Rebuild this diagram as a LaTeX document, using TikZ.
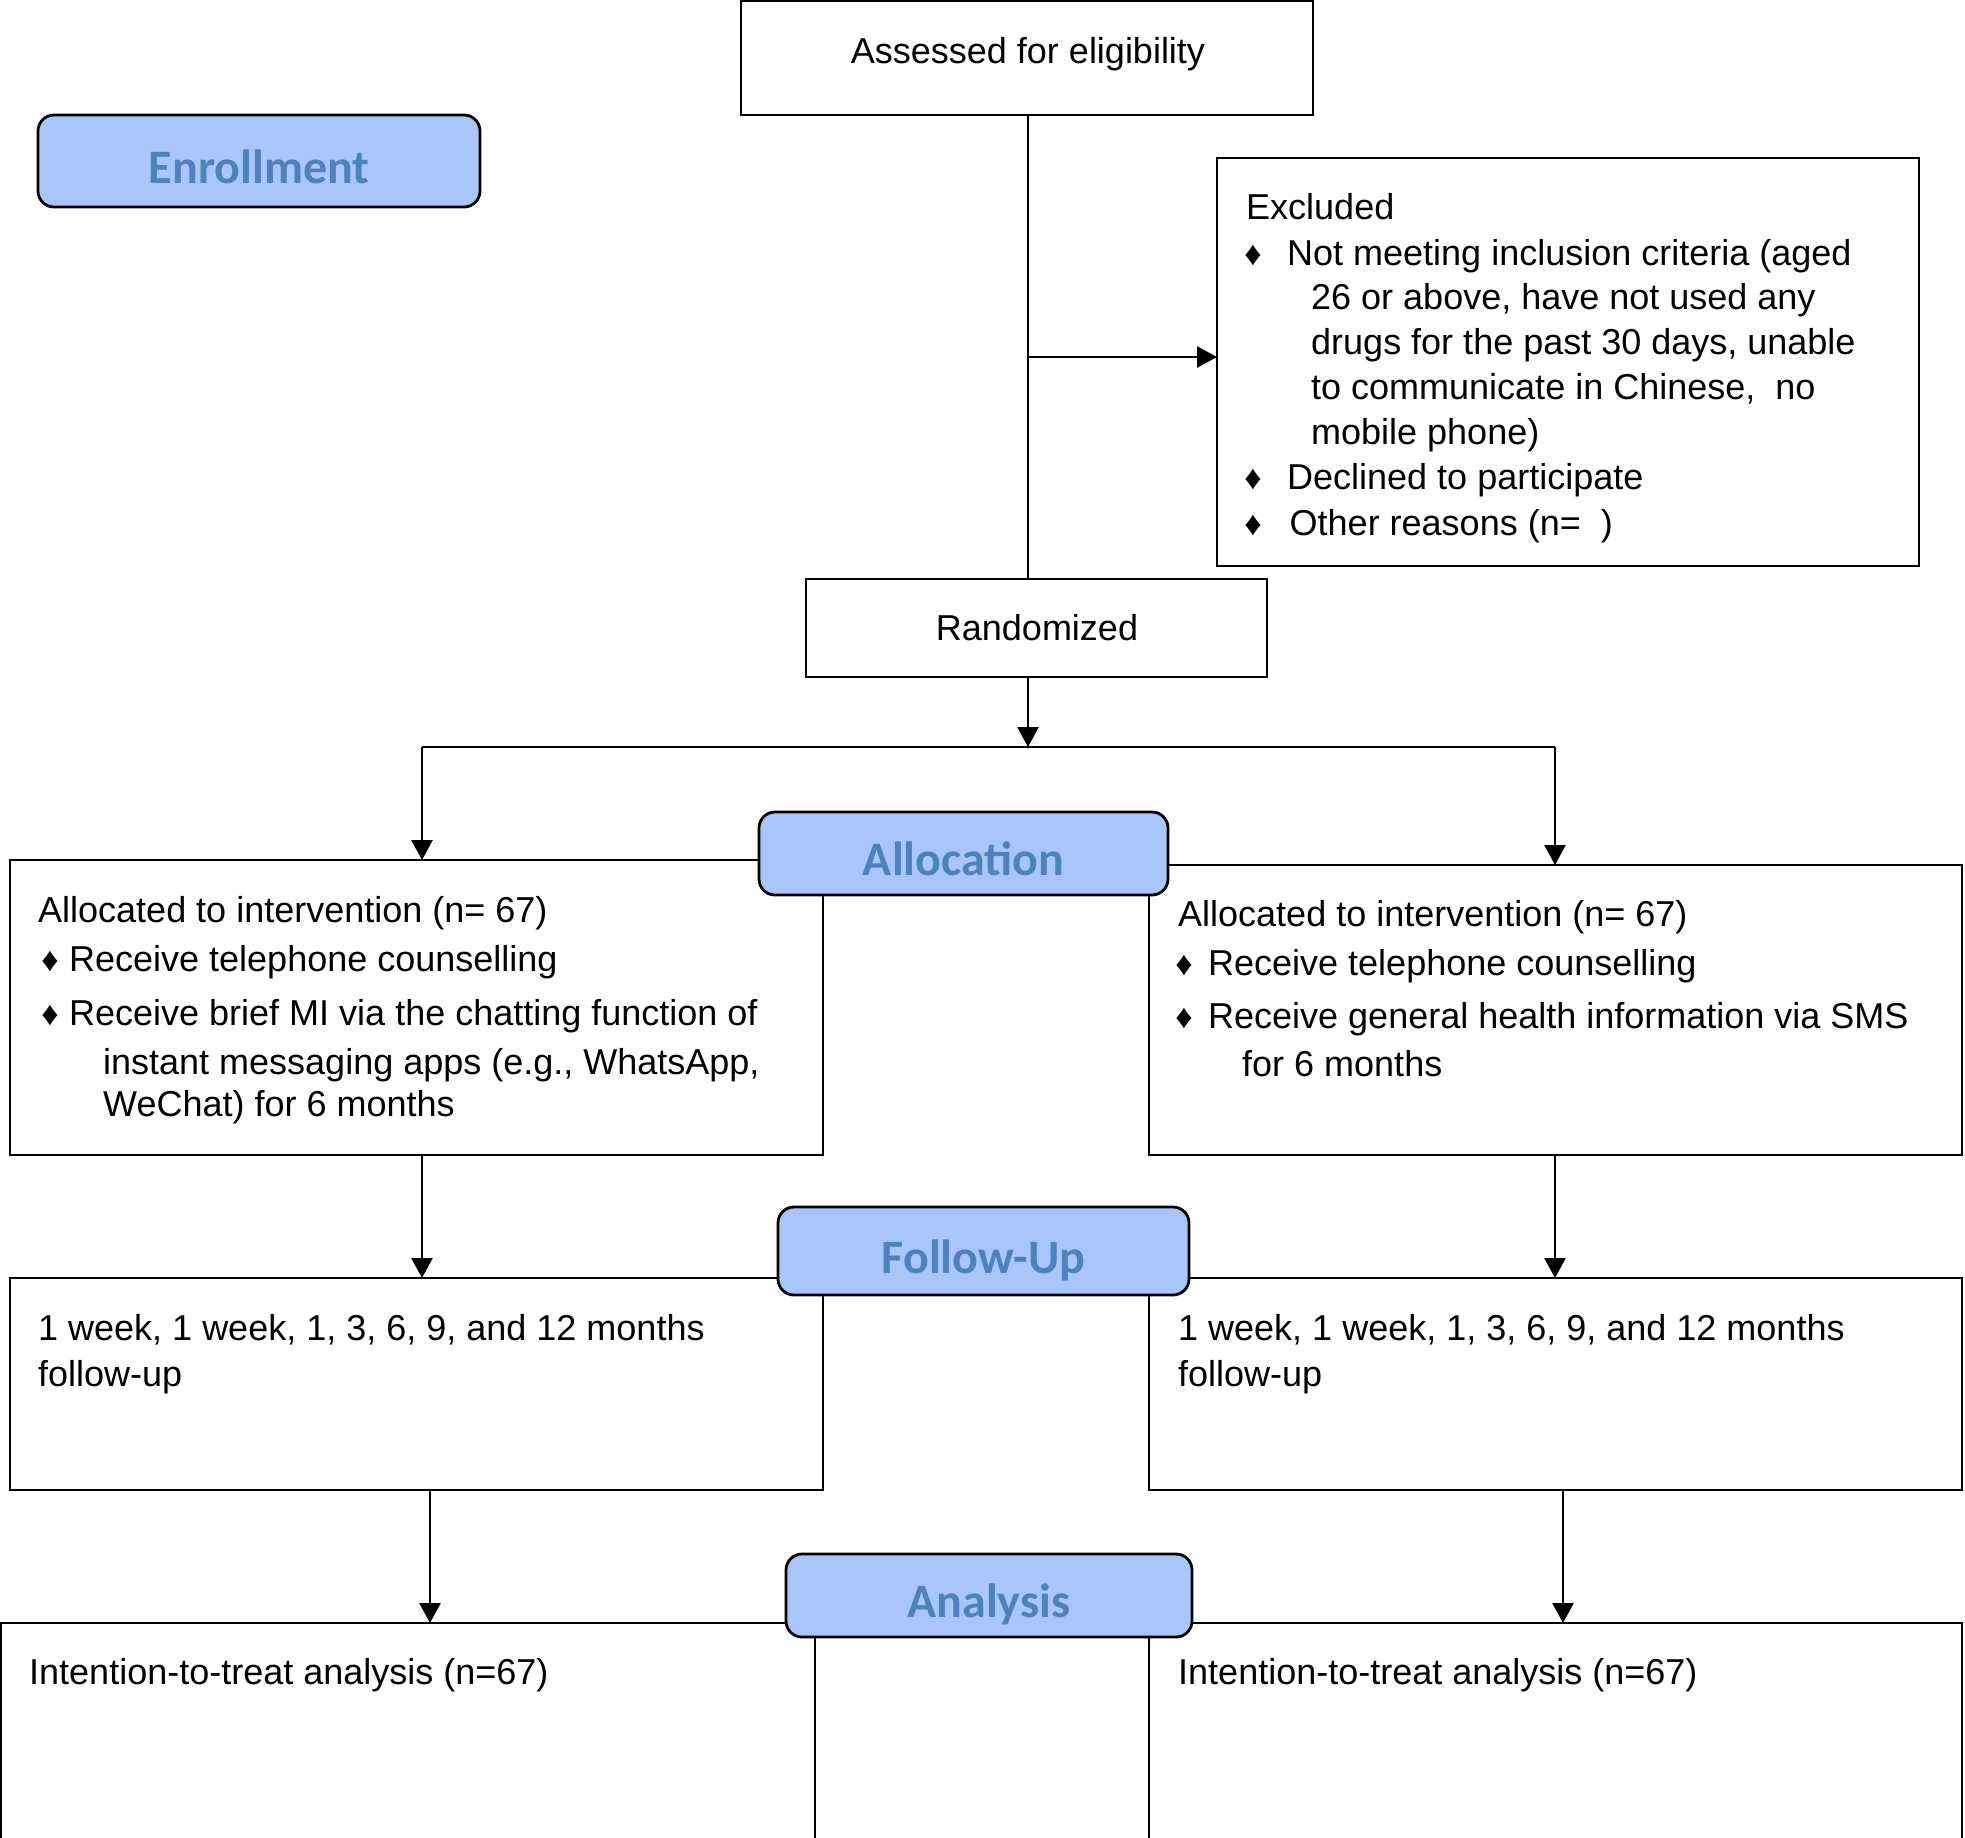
\documentclass[tikz,border=0pt]{standalone}
\usepackage{fontspec}
\setmainfont{Liberation Sans}
\newfontfamily\lblfont{Carlito}
\usetikzlibrary{arrows.meta}
\definecolor{lblfill}{HTML}{A9C6FA}
\definecolor{lbltext}{HTML}{4F81BD}
\tikzset{
 box/.style={draw=black, line width=2.8pt, inner sep=0pt, outer sep=0pt, fill=white},
 lbl/.style={draw=black, line width=2.8pt, rounded corners=16pt, fill=lblfill, inner sep=0pt, outer sep=0pt,
   font=\lblfont\bfseries\fontsize{48}{56}\selectfont, text=lbltext, text height=44pt, text depth=0pt},
 txt/.style={anchor=base west, inner sep=0pt, font=\fontsize{36}{43}\selectfont},
 ctxt/.style={anchor=base, inner sep=0pt, font=\fontsize{36}{43}\selectfont},
 bul/.style={anchor=base, inner sep=0pt, font=\fontsize{34}{40}\selectfont},
 conn/.style={line width=2.8pt},
 arr/.style={conn, -{Triangle[length=20pt,width=21pt]}},
}
\begin{document}
\begin{tikzpicture}[x=1pt,y=-1pt]
\useasboundingbox (0,0) rectangle (1965,1837);
% boxes
\node[box, minimum width=572pt, minimum height=114pt] (assess) at (1027,58) {};
\node[box, minimum width=702pt, minimum height=408pt] (excl) at (1568,362) {};
\node[box, minimum width=461pt, minimum height=98pt] (rand) at (1036.5,628) {};
\node[box, minimum width=813pt, minimum height=295pt] (allocL) at (416.5,1007.5) {};
\node[box, minimum width=813pt, minimum height=290pt] (allocR) at (1555.5,1010) {};
\node[box, minimum width=813pt, minimum height=212pt] (fuL) at (416.5,1384) {};
\node[box, minimum width=813pt, minimum height=212pt] (fuR) at (1555.5,1384) {};
\node[box, minimum width=814pt, minimum height=220pt] (anL) at (408,1733) {};
\node[box, minimum width=813pt, minimum height=220pt] (anR) at (1555.5,1733) {};
% connectors
\coordinate (split) at (1028,747);
\coordinate (branch) at (1028,357);
\draw[conn] (split |- assess.south) -- (split |- rand.north);
\draw[arr] (branch) -- (branch -| excl.west);
\draw[arr] (split |- rand.south) -- (split);
\coordinate (sl) at (422,747);
\coordinate (sr) at (1555,747);
\draw[conn] (sl) -- (sr);
\draw[arr] (sl) -- (sl |- allocL.north);
\draw[arr] (sr) -- (sr |- allocR.north);
\draw[arr] (sl |- allocL.south) -- (sl |- fuL.north);
\draw[arr] (sr |- allocR.south) -- (sr |- fuR.north);
\coordinate (al) at (430,1490);
\coordinate (ar) at (1563,1490);
\draw[arr] (al |- fuL.south) -- (al |- anL.north);
\draw[arr] (ar |- fuR.south) -- (ar |- anR.north);
% stage labels
\node[lbl, minimum width=442pt, minimum height=92pt] (enr) at (259,161) {Enrollment};
\node[lbl, minimum width=409pt, minimum height=83pt] (allocLbl) at (963.5,853.5) {Allocation};
\node[lbl, minimum width=411pt, minimum height=88pt] (fuLbl) at (983.5,1251) {Follow-Up};
\node[lbl, minimum width=406pt, minimum height=83pt] (anLbl) at (989,1595.5) {Analysis};
% texts
\node[ctxt] (t-assess) at (1028,63) {Assessed for eligibility};
\node[ctxt] (t-rand) at (1037,640) {Randomized};
\node[txt] (ex0) at (1246,219) {Excluded};
\node[bul] (exb1) at (1253,265) {♦};
\node[txt] (ex1) at (1287,265) {Not meeting inclusion criteria (aged};
\node[txt] (ex2) at (1311,309) {26 or above, have not used any};
\node[txt] (ex3) at (1311,354) {drugs for the past 30 days, unable};
\node[txt] (ex4) at (1311,399) {to communicate in Chinese,\ \ no};
\node[txt] (ex5) at (1311,444) {mobile phone)};
\node[bul] (exb2) at (1253,489) {♦};
\node[txt] (ex6) at (1287,489) {Declined to participate};
\node[bul] (exb3) at (1253,535) {♦};
\node[txt] (ex7) at (1289.5,535) {Other reasons (n=\ \ )};
\node[txt] (al0) at (38,922) {Allocated to intervention (n= 67)};
\node[bul] (alb1) at (50,971) {♦};
\node[txt] (al1) at (69,971) {Receive telephone counselling};
\node[bul] (alb2) at (50,1025) {♦};
\node[txt] (al2) at (69,1025) {Receive brief MI via the chatting function of};
\node[txt] (al3) at (103,1074) {instant messaging apps (e.g., WhatsApp,};
\node[txt] (al4) at (103,1116) {WeChat) for 6 months};
\node[txt] (ar0) at (1178,926) {Allocated to intervention (n= 67)};
\node[bul] (arb1) at (1184,975) {♦};
\node[txt] (ar1) at (1208,975) {Receive telephone counselling};
\node[bul] (arb2) at (1184,1028) {♦};
\node[txt] (ar2) at (1208,1028) {Receive general health information via SMS};
\node[txt] (ar3) at (1242,1076) {for 6 months};
\node[txt] (fl0) at (38,1340) {1 week, 1 week, 1, 3, 6, 9, and 12 months};
\node[txt] (fl1) at (38,1386) {follow-up};
\node[txt] (fr0) at (1178,1340) {1 week, 1 week, 1, 3, 6, 9, and 12 months};
\node[txt] (fr1) at (1178,1386) {follow-up};
\node[txt] (anl0) at (29,1684) {Intention-to-treat analysis (n=67)};
\node[txt] (anr0) at (1178,1684) {Intention-to-treat analysis (n=67)};
\end{tikzpicture}
\end{document}
